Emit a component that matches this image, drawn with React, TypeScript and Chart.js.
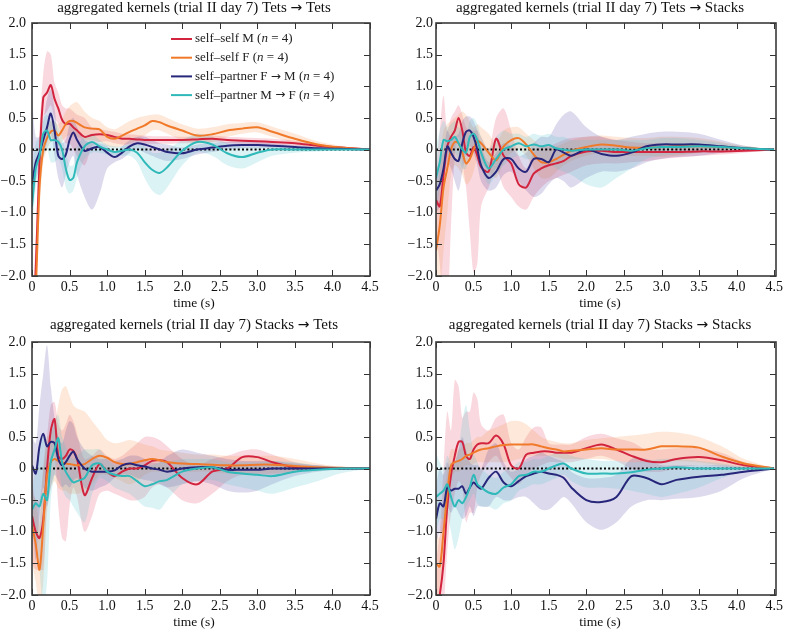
import { useEffect, useRef } from 'react';
import { Chart, registerables } from 'chart.js';
Chart.register(...registerables);

// time grid (s)
const X = [0, 0.05, 0.1, 0.15, 0.2, 0.25, 0.3, 0.35, 0.4, 0.45, 0.5, 0.55, 0.6, 0.7, 0.8, 0.9, 1.0, 1.1, 1.2, 1.3, 1.4, 1.5, 1.6, 1.7, 1.8, 2.0, 2.2, 2.4, 2.6, 2.8, 3.0, 3.2, 3.5, 3.8, 4.1, 4.5];

const X_TICKS = [0, 0.5, 1, 1.5, 2, 2.5, 3, 3.5, 4, 4.5];
const Y_TICKS = [-2, -1.5, -1, -0.5, 0, 0.5, 1, 1.5, 2];
const ZERO_LINE = [0, 0];
const ZERO_X = [0, 4.5];

// ---- Tets -> Tets ----
const TT_RED = [-3.0, -1.9, -0.2, 0.82, 0.9, 1.02, 0.8, 0.65, 0.47, 0.4, 0.41, 0.35, 0.3, 0.2, 0.23, 0.24, 0.23, 0.2, 0.17, 0.17, 0.16, 0.15, 0.15, 0.15, 0.15, 0.15, 0.16, 0.17, 0.15, 0.14, 0.13, 0.12, 0.1, 0.06, 0.03, 0];
const TT_RED_LO = [-3.5, -2.4, -0.6, 0.5, 0.6, 0.7, 0.5, 0.4, 0.2, 0.1, 0.1, 0.0, -0.1, -0.25, 0.05, 0.12, 0.13, 0.1, 0.08, 0.08, 0.09, 0.09, 0.09, 0.09, 0.09, 0.1, 0.1, 0.11, 0.1, 0.09, 0.08, 0.07, 0.06, 0.03, 0.01, 0];
const TT_RED_HI = [-2.5, -1.4, 0.3, 1.2, 1.55, 1.5, 1.05, 0.9, 0.7, 0.65, 0.65, 0.6, 0.55, 0.5, 0.35, 0.33, 0.3, 0.28, 0.25, 0.24, 0.23, 0.22, 0.21, 0.21, 0.21, 0.2, 0.21, 0.22, 0.2, 0.19, 0.18, 0.17, 0.14, 0.09, 0.05, 0];
const TT_ORANGE = [-3.0, -2.2, -0.6, 0.0, 0.18, 0.28, 0.3, 0.22, 0.3, 0.4, 0.45, 0.45, 0.42, 0.35, 0.33, 0.32, 0.2, 0.17, 0.22, 0.28, 0.33, 0.38, 0.45, 0.43, 0.38, 0.3, 0.22, 0.24, 0.3, 0.33, 0.35, 0.28, 0.17, 0.08, 0.03, 0];
const TT_ORANGE_LO = [-3.5, -2.7, -1.0, -0.2, 0.0, 0.12, 0.15, 0.05, 0.12, 0.2, 0.22, 0.2, 0.2, 0.15, 0.15, 0.12, 0.05, 0.03, 0.05, 0.1, 0.15, 0.22, 0.3, 0.3, 0.25, 0.15, 0.1, 0.12, 0.2, 0.25, 0.27, 0.2, 0.1, 0.03, 0.0, 0];
const TT_ORANGE_HI = [-2.5, -1.7, -0.2, 0.2, 0.35, 0.45, 0.45, 0.4, 0.48, 0.6, 0.68, 0.73, 0.75, 0.6, 0.5, 0.45, 0.35, 0.32, 0.38, 0.45, 0.5, 0.53, 0.55, 0.55, 0.5, 0.4, 0.33, 0.35, 0.4, 0.42, 0.43, 0.36, 0.25, 0.13, 0.06, 0];
const TT_NAVY = [-0.55, -0.2, -0.05, 0.15, 0.35, 0.57, 0.3, -0.1, -0.15, -0.08, 0.15, 0.27, 0.15, -0.02, 0.02, 0.04, -0.05, -0.12, -0.05, 0.05, 0.1, 0.08, 0.04, 0.0, -0.04, -0.06, 0.0, 0.03, 0.06, 0.07, 0.07, 0.06, 0.04, 0.02, 0.01, 0];
const TT_NAVY_LO = [-1.0, -0.5, -0.3, -0.1, 0.1, 0.25, -0.1, -0.45, -0.6, -0.4, -0.2, -0.1, -0.4, -0.75, -0.95, -0.7, -0.3, -0.2, -0.15, -0.05, 0.0, -0.05, -0.1, -0.15, -0.18, -0.15, -0.08, -0.04, 0.0, 0.02, 0.02, 0.02, 0.01, 0.0, 0.0, 0];
const TT_NAVY_HI = [0.8, 0.2, 0.2, 0.45, 0.8, 0.95, 0.65, 0.2, 0.1, 0.15, 0.4, 0.5, 0.35, 0.15, 0.1, 0.1, 0.05, -0.05, 0.05, 0.15, 0.2, 0.2, 0.15, 0.1, 0.08, 0.03, 0.08, 0.1, 0.12, 0.12, 0.12, 0.1, 0.07, 0.04, 0.02, 0];
const TT_TEAL = [-0.9, -0.3, -0.1, 0.25, 0.3, 0.15, 0.15, 0.12, 0.0, -0.3, -0.48, -0.45, -0.2, 0.05, 0.12, 0.05, 0.0, -0.04, -0.02, 0.0, -0.05, -0.2, -0.32, -0.37, -0.28, -0.02, 0.12, 0.08, -0.06, -0.12, -0.05, 0.0, 0.0, 0.0, 0.0, 0];
const TT_TEAL_LO = [-1.3, -0.6, -0.35, -0.1, 0.0, -0.2, -0.2, -0.15, -0.3, -0.6, -0.7, -0.65, -0.45, -0.15, -0.05, -0.05, -0.08, -0.12, -0.1, -0.1, -0.2, -0.45, -0.65, -0.72, -0.6, -0.25, -0.05, -0.1, -0.25, -0.3, -0.2, -0.1, -0.05, -0.03, -0.01, 0];
const TT_TEAL_HI = [-0.3, 0.1, 0.2, 0.5, 0.55, 0.45, 0.45, 0.35, 0.2, -0.05, -0.25, -0.25, 0.05, 0.2, 0.25, 0.15, 0.08, 0.05, 0.05, 0.08, 0.08, 0.05, -0.05, -0.05, 0.0, 0.15, 0.25, 0.2, 0.1, 0.05, 0.05, 0.05, 0.03, 0.02, 0.01, 0];

// ---- Tets -> Stacks ----
const TS_RED = [-0.8, -0.9, -0.4, 0.05, 0.2, 0.3, 0.5, 0.3, -0.05, -0.1, 0.04, -0.1, -0.28, -0.35, 0.17, -0.1, -0.22, -0.55, -0.6, -0.38, -0.3, -0.25, -0.22, -0.18, -0.1, -0.03, -0.02, -0.04, -0.04, -0.04, -0.04, -0.04, -0.03, -0.03, -0.02, 0];
const TS_RED_LO = [-1.3, -1.8, -2.5, -2.5, -1.2, -0.1, 0.2, -0.2, -0.6, -1.3, -1.95, -1.8, -0.9, -0.6, -0.3, -0.6, -0.75, -0.9, -0.95, -0.75, -0.6, -0.5, -0.45, -0.4, -0.35, -0.25, -0.22, -0.22, -0.2, -0.18, -0.15, -0.13, -0.1, -0.08, -0.05, 0];
const TS_RED_HI = [-0.3, 0.3, 0.85, 0.3, 0.5, 0.6, 0.7, 0.55, 0.35, 0.3, 0.3, 0.3, 0.2, 0.0, 0.5, 0.65, 0.3, -0.1, -0.3, -0.05, 0.05, 0.05, 0.1, 0.15, 0.18, 0.2, 0.2, 0.15, 0.12, 0.1, 0.1, 0.08, 0.05, 0.03, 0.02, 0];
const TS_ORANGE = [-1.6, -1.2, -0.6, -0.3, 0.0, 0.12, 0.1, -0.05, -0.22, -0.15, 0.0, 0.13, 0.1, -0.05, -0.17, 0.05, 0.15, 0.18, 0.08, -0.08, -0.2, -0.2, -0.15, -0.08, -0.02, 0.04, 0.08, 0.06, 0.03, 0.03, 0.04, 0.05, 0.05, 0.04, 0.02, 0];
const TS_ORANGE_LO = [-2.2, -2.2, -1.6, -1.0, -0.4, -0.25, -0.3, -0.4, -0.55, -0.5, -0.35, -0.15, -0.2, -0.35, -0.45, -0.2, -0.05, 0.0, -0.1, -0.3, -0.45, -0.45, -0.35, -0.25, -0.18, -0.1, -0.05, -0.08, -0.1, -0.1, -0.12, -0.1, -0.05, -0.02, 0.0, 0];
const TS_ORANGE_HI = [-1.0, -0.3, 0.3, 0.4, 0.45, 0.5, 0.55, 0.6, 0.55, 0.45, 0.35, 0.4, 0.35, 0.25, 0.1, 0.3, 0.35, 0.35, 0.25, 0.15, 0.05, 0.05, 0.05, 0.1, 0.15, 0.2, 0.22, 0.2, 0.18, 0.18, 0.2, 0.2, 0.18, 0.12, 0.06, 0];
const TS_NAVY = [-0.65, -0.55, -0.3, 0.05, -0.05, -0.15, -0.18, 0.1, 0.28, 0.3, 0.2, 0.0, -0.25, -0.45, -0.35, -0.15, -0.15, -0.3, -0.35, -0.15, -0.15, -0.2, 0.0, -0.05, -0.1, 0.0, -0.07, -0.1, -0.05, 0.05, 0.08, 0.08, 0.08, 0.05, 0.02, 0];
const TS_NAVY_LO = [-1.0, -0.9, -0.6, -0.2, -0.3, -0.5, -0.65, -0.35, -0.05, 0.05, -0.05, -0.25, -0.5, -0.65, -0.6, -0.4, -0.35, -0.5, -0.65, -0.75, -0.7, -0.55, -0.45, -0.5, -0.6, -0.45, -0.35, -0.35, -0.3, -0.2, -0.15, -0.12, -0.1, -0.05, -0.02, 0];
const TS_NAVY_HI = [-0.3, -0.2, 0.0, 0.3, 0.2, 0.2, 0.25, 0.45, 0.52, 0.52, 0.45, 0.3, 0.05, -0.2, -0.05, 0.1, 0.05, -0.1, -0.05, 0.1, 0.2, 0.2, 0.4, 0.55, 0.6, 0.35, 0.2, 0.15, 0.2, 0.25, 0.28, 0.28, 0.25, 0.15, 0.06, 0];
const TS_TEAL = [-0.45, -0.2, 0.15, 0.13, 0.15, 0.2, 0.1, 0.0, -0.05, 0.2, 0.25, 0.15, -0.05, -0.3, -0.15, 0.0, 0.05, 0.1, 0.05, 0.08, 0.05, 0.07, 0.02, 0.0, -0.02, 0.0, 0.0, 0.0, -0.02, 0.02, 0.04, 0.04, 0.05, 0.04, 0.02, 0];
const TS_TEAL_LO = [-1.0, -0.6, -0.15, -0.1, -0.1, -0.05, -0.15, -0.3, -0.3, -0.05, 0.0, -0.1, -0.3, -0.55, -0.4, -0.25, -0.15, -0.1, -0.15, -0.15, -0.15, -0.2, -0.3, -0.35, -0.4, -0.55, -0.6, -0.45, -0.3, -0.15, -0.1, -0.08, -0.05, -0.02, 0.0, 0];
const TS_TEAL_HI = [0.05, 0.3, 0.45, 0.35, 0.4, 0.45, 0.35, 0.3, 0.25, 0.45, 0.5, 0.4, 0.2, 0.0, 0.2, 0.3, 0.25, 0.25, 0.2, 0.25, 0.22, 0.25, 0.2, 0.2, 0.15, 0.15, 0.15, 0.15, 0.15, 0.15, 0.18, 0.18, 0.15, 0.1, 0.05, 0];

// ---- Stacks -> Tets ----
const ST_RED = [-0.75, -1.0, -1.1, -0.8, 0.0, 0.6, 0.78, 0.2, 0.15, 0.2, 0.3, 0.28, 0.15, -0.42, -0.15, 0.07, -0.05, -0.12, -0.05, 0.0, 0.0, 0.05, 0.12, 0.13, 0.1, -0.15, -0.25, -0.05, 0.0, 0.18, 0.18, 0.1, 0.02, 0.0, 0.0, 0];
const ST_RED_LO = [-1.5, -1.6, -1.6, -1.6, -0.5, 0.1, 0.2, -0.6, -1.1, -1.15, -0.6, -0.3, -0.45, -1.0, -0.75, -0.4, -0.35, -0.4, -0.45, -0.5, -0.5, -0.45, -0.3, -0.25, -0.3, -0.5, -0.55, -0.4, -0.2, -0.1, -0.1, -0.1, -0.05, -0.02, -0.01, 0];
const ST_RED_HI = [-0.2, -0.5, -0.5, 0.0, 0.5, 1.0, 1.05, 0.7, 0.6, 0.7, 0.85, 0.75, 0.55, 0.15, 0.2, 0.3, 0.2, 0.15, 0.2, 0.3, 0.4, 0.5, 0.5, 0.45, 0.35, 0.15, 0.05, 0.15, 0.2, 0.28, 0.3, 0.22, 0.1, 0.05, 0.02, 0];
const ST_ORANGE = [-0.9, -1.2, -1.6, -0.9, -0.1, 0.1, 0.15, 0.12, 0.1, 0.08, 0.07, 0.06, 0.05, 0.07, 0.15, 0.2, 0.17, 0.1, 0.07, 0.07, 0.1, 0.13, 0.15, 0.13, 0.1, 0.08, 0.07, 0.06, 0.05, 0.05, 0.06, 0.06, 0.04, 0.02, 0.01, 0];
const ST_ORANGE_LO = [-1.5, -1.8, -2.2, -1.8, -0.7, -0.3, -0.2, -0.3, -0.35, -0.35, -0.4, -0.4, -0.4, -0.35, -0.25, -0.1, -0.1, -0.15, -0.2, -0.25, -0.2, -0.1, -0.05, -0.05, -0.05, -0.05, -0.05, -0.05, -0.08, -0.08, -0.08, -0.08, -0.05, -0.02, 0.0, 0];
const ST_ORANGE_HI = [-0.4, -0.5, -0.9, 0.0, 0.5, 0.55, 0.7, 1.0, 1.25, 1.3, 1.15, 1.0, 0.95, 0.9, 0.75, 0.6, 0.45, 0.4, 0.42, 0.45, 0.42, 0.38, 0.35, 0.3, 0.28, 0.25, 0.22, 0.22, 0.2, 0.2, 0.2, 0.2, 0.15, 0.08, 0.03, 0];
const ST_NAVY = [0.05, -0.08, 0.35, 0.55, 0.35, 0.42, 0.4, 0.15, 0.05, 0.1, 0.2, 0.27, 0.15, 0.0, -0.05, -0.05, -0.05, -0.03, 0.05, 0.08, 0.05, 0.03, 0.0, -0.02, -0.05, 0.0, 0.02, 0.02, -0.02, -0.02, -0.02, 0.0, 0.0, 0.0, 0.0, 0];
const ST_NAVY_LO = [-0.7, -1.45, -0.7, -0.3, -0.6, -0.3, -0.1, -0.2, -0.3, -0.25, -0.3, -0.2, -0.15, -0.3, -0.35, -0.3, -0.25, -0.15, -0.1, -0.1, -0.15, -0.18, -0.2, -0.25, -0.3, -0.25, -0.2, -0.25, -0.35, -0.38, -0.35, -0.25, -0.12, -0.05, -0.02, 0];
const ST_NAVY_HI = [0.5, 0.4, 1.0, 1.5, 1.95, 1.3, 0.8, 0.5, 0.4, 0.6, 0.75, 0.7, 0.5, 0.3, 0.2, 0.15, 0.15, 0.12, 0.15, 0.2, 0.2, 0.15, 0.1, 0.1, 0.2, 0.3, 0.25, 0.2, 0.15, 0.12, 0.12, 0.12, 0.08, 0.05, 0.02, 0];
const ST_TEAL = [-0.65, -0.55, -0.6, -0.4, -0.5, 0.1, 0.3, 0.48, 0.1, -0.05, -0.15, -0.22, -0.2, -0.15, 0.05, 0.08, -0.05, -0.1, -0.12, -0.12, -0.2, -0.28, -0.25, -0.2, -0.18, -0.05, 0.0, 0.02, -0.05, -0.08, -0.1, -0.12, -0.05, -0.02, 0.0, 0];
const ST_TEAL_LO = [-1.0, -1.1, -1.6, -2.2, -1.8, -0.5, -0.1, 0.1, -0.3, -0.45, -0.5, -0.6, -0.7, -0.85, -0.4, -0.15, -0.2, -0.3, -0.35, -0.4, -0.5, -0.6, -0.62, -0.65, -0.5, -0.25, -0.2, -0.18, -0.25, -0.3, -0.35, -0.4, -0.3, -0.2, -0.08, 0];
const ST_TEAL_HI = [-0.3, 0.0, 0.4, 0.5, 0.3, 0.6, 0.75, 0.85, 0.5, 0.35, 0.2, 0.15, 0.2, 0.3, 0.3, 0.3, 0.15, 0.05, 0.05, 0.1, 0.1, 0.05, 0.05, 0.1, 0.1, 0.15, 0.15, 0.15, 0.1, 0.1, 0.1, 0.12, 0.1, 0.05, 0.02, 0];

// ---- Stacks -> Stacks ----
const SS_RED = [-2.3, -2.0, -1.5, -0.6, -0.1, 0.2, 0.42, 0.42, 0.2, 0.15, 0.3, 0.38, 0.4, 0.4, 0.52, 0.38, 0.05, 0.0, 0.22, 0.25, 0.27, 0.27, 0.25, 0.25, 0.25, 0.32, 0.38, 0.3, 0.2, 0.12, 0.1, 0.15, 0.18, 0.13, 0.05, 0];
const SS_RED_LO = [-3.0, -2.5, -2.2, -1.3, -0.7, -0.4, -0.2, -0.3, -0.85, -0.7, -0.7, -0.3, -0.1, 0.1, 0.2, 0.0, -0.15, -0.25, -0.1, 0.0, 0.05, 0.1, 0.1, 0.1, 0.1, 0.15, 0.2, 0.12, 0.0, -0.05, -0.05, 0.0, 0.05, 0.03, 0.0, 0];
const SS_RED_HI = [-1.5, -1.0, 0.0, 0.9, 0.6, 1.4, 1.3, 0.8, 0.9, 0.9, 1.2, 1.1, 0.7, 0.6, 0.8, 0.85, 0.4, 0.3, 0.5, 0.65, 0.65, 0.4, 0.38, 0.38, 0.38, 0.5, 0.55, 0.48, 0.42, 0.3, 0.3, 0.32, 0.32, 0.25, 0.1, 0];
const SS_ORANGE = [-1.5, -1.55, -1.0, -0.4, 0.05, 0.1, 0.12, 0.15, 0.2, 0.22, 0.25, 0.28, 0.3, 0.32, 0.35, 0.37, 0.38, 0.38, 0.38, 0.38, 0.35, 0.32, 0.3, 0.27, 0.28, 0.3, 0.32, 0.3, 0.3, 0.3, 0.35, 0.35, 0.33, 0.19, 0.08, 0];
const SS_ORANGE_LO = [-2.2, -2.0, -1.5, -0.8, -0.2, -0.05, -0.05, 0.0, 0.05, 0.05, 0.08, 0.1, 0.1, 0.1, 0.1, 0.1, 0.12, 0.15, 0.18, 0.2, 0.2, 0.2, 0.18, 0.15, 0.15, 0.15, 0.15, 0.12, 0.1, 0.1, 0.12, 0.12, 0.1, 0.05, 0.02, 0];
const SS_ORANGE_HI = [-1.0, -1.1, -0.5, 0.0, 0.3, 0.3, 0.3, 0.35, 0.4, 0.4, 0.45, 0.5, 0.5, 0.6, 0.65, 0.7, 0.75, 0.75, 0.7, 0.6, 0.5, 0.45, 0.42, 0.4, 0.4, 0.45, 0.48, 0.5, 0.52, 0.55, 0.58, 0.57, 0.5, 0.35, 0.15, 0];
const SS_NAVY = [-0.8, -0.55, -0.6, -0.3, -0.35, -0.32, -0.32, -0.28, -0.4, -0.3, -0.22, -0.28, -0.32, -0.15, -0.05, -0.22, -0.28, -0.2, -0.12, -0.08, -0.05, -0.08, -0.1, -0.15, -0.3, -0.5, -0.53, -0.45, -0.12, -0.15, -0.25, -0.18, -0.13, -0.1, -0.05, 0];
const SS_NAVY_LO = [-1.2, -1.0, -1.0, -0.6, -0.7, -0.6, -0.7, -0.8, -0.75, -0.6, -0.75, -0.6, -0.6, -0.6, -0.45, -0.5, -0.5, -0.45, -0.45, -0.55, -0.65, -0.65, -0.55, -0.45, -0.55, -0.85, -0.97, -0.85, -0.6, -0.5, -0.5, -0.48, -0.45, -0.35, -0.15, 0];
const SS_NAVY_HI = [-0.3, 0.0, -0.1, 0.1, 0.0, 0.1, 0.3, 0.5, 0.3, 0.1, 0.05, 0.05, 0.0, 0.3, 0.4, 0.1, -0.05, 0.0, 0.15, 0.2, 0.25, 0.2, 0.15, 0.1, -0.05, -0.15, -0.15, -0.1, 0.15, 0.15, 0.05, 0.05, 0.05, 0.05, 0.02, 0];
const SS_TEAL = [-0.45, -0.4, -0.35, -0.25, -0.45, -0.6, -0.5, -0.55, -0.45, -0.3, -0.1, -0.25, -0.3, -0.38, -0.4, -0.3, -0.25, -0.12, -0.1, -0.05, -0.05, 0.0, 0.05, 0.08, 0.0, -0.08, -0.08, -0.08, -0.06, -0.02, 0.0, 0.02, 0.0, 0.0, 0.0, 0];
const SS_TEAL_LO = [-1.0, -0.8, -0.8, -0.7, -1.0, -1.28, -1.1, -0.8, -0.6, -0.5, -0.4, -0.55, -0.6, -0.6, -0.65, -0.55, -0.5, -0.35, -0.3, -0.25, -0.25, -0.2, -0.15, -0.1, -0.2, -0.3, -0.3, -0.32, -0.35, -0.4, -0.45, -0.4, -0.3, -0.15, -0.05, 0];
const SS_TEAL_HI = [0.25, 0.1, 0.0, 0.2, 0.1, 0.1, 0.3, 0.75, 1.0, 0.6, 0.25, 0.1, 0.0, -0.1, -0.15, -0.05, 0.0, 0.1, 0.1, 0.15, 0.15, 0.2, 0.25, 0.25, 0.2, 0.15, 0.12, 0.12, 0.1, 0.12, 0.15, 0.15, 0.12, 0.08, 0.03, 0];

const LINE_COLORS = ['#d2243f', '#f07a2a', '#27267a', '#2fb9b9'];
const BAND_COLORS = ['rgba(225,60,95,0.2)', 'rgba(248,150,80,0.22)', 'rgba(80,70,160,0.2)', 'rgba(80,195,205,0.2)'];
const LEGEND_LABELS = [
  ['self–self M (', ' = 4)'],
  ['self–self F (', ' = 4)'],
  ['self–partner F → M (', ' = 4)'],
  ['self–partner M → F (', ' = 4)'],
];

const FONT = '"Liberation Serif", "DejaVu Serif", serif';
const ARROW_FONT = '"DejaVu Sans", sans-serif';

type Area = { l: number; r: number; t: number; b: number };
type PanelDef = {
  title: string;
  mean: number[][];
  lo: number[][];
  hi: number[][];
  left: number;
  top: number;
  w: number;
  h: number;
  area: Area;
  cx: number;
  ty: number;
  ypad: number;
  legend: boolean;
};

const PANELS: PanelDef[] = [
  {
    title: 'aggregated kernels (trial II day 7) Tets → Tets',
    mean: [TT_RED, TT_ORANGE, TT_NAVY, TT_TEAL],
    lo: [TT_RED_LO, TT_ORANGE_LO, TT_NAVY_LO, TT_TEAL_LO],
    hi: [TT_RED_HI, TT_ORANGE_HI, TT_NAVY_HI, TT_TEAL_HI],
    left: 0, top: 0, w: 393, h: 314,
    area: { l: 32, r: 370, t: 23, b: 276 }, cx: 194, ty: 8, ypad: 6, legend: true,
  },
  {
    title: 'aggregated kernels (trial II day 7) Tets → Stacks',
    mean: [TS_RED, TS_ORANGE, TS_NAVY, TS_TEAL],
    lo: [TS_RED_LO, TS_ORANGE_LO, TS_NAVY_LO, TS_TEAL_LO],
    hi: [TS_RED_HI, TS_ORANGE_HI, TS_NAVY_HI, TS_TEAL_HI],
    left: 393, top: 0, w: 393, h: 314,
    area: { l: 43, r: 383, t: 23, b: 276 }, cx: 207, ty: 8, ypad: 3, legend: false,
  },
  {
    title: 'aggregated kernels (trial II day 7) Stacks → Tets',
    mean: [ST_RED, ST_ORANGE, ST_NAVY, ST_TEAL],
    lo: [ST_RED_LO, ST_ORANGE_LO, ST_NAVY_LO, ST_TEAL_LO],
    hi: [ST_RED_HI, ST_ORANGE_HI, ST_NAVY_HI, ST_TEAL_HI],
    left: 0, top: 314, w: 393, h: 315,
    area: { l: 32, r: 370, t: 28, b: 281 }, cx: 194, ty: 11, ypad: 6, legend: false,
  },
  {
    title: 'aggregated kernels (trial II day 7) Stacks → Stacks',
    mean: [SS_RED, SS_ORANGE, SS_NAVY, SS_TEAL],
    lo: [SS_RED_LO, SS_ORANGE_LO, SS_NAVY_LO, SS_TEAL_LO],
    hi: [SS_RED_HI, SS_ORANGE_HI, SS_NAVY_HI, SS_TEAL_HI],
    left: 393, top: 314, w: 393, h: 315,
    area: { l: 43, r: 383, t: 28, b: 281 }, cx: 207, ty: 11, ypad: 3, legend: false,
  },
];

const pts = (arr: number[]) => X.map((x, i) => ({ x, y: arr[i] }));
const fmt = (v: number) => (v === 0 ? '0' : (v < 0 ? '−' : '') + Math.abs(v).toFixed(1));

type Seg = { t: string; f: string };
// split text so the arrow uses a font with a full-size arrow glyph
function segs(text: string, size: number): Seg[] {
  const out: Seg[] = [];
  text.split(/(→)/).forEach((part) => {
    if (!part) return;
    if (part === '→') out.push({ t: '→', f: `${size - 1}px ${ARROW_FONT}` });
    else out.push({ t: part, f: `${size}px ${FONT}` });
  });
  return out;
}
function drawSegs(ctx: CanvasRenderingContext2D, s: Seg[], x: number, y: number, center: boolean) {
  let total = 0;
  s.forEach((g) => { ctx.font = g.f; total += ctx.measureText(g.t).width; });
  let cx = center ? x - total / 2 : x;
  ctx.textAlign = 'left';
  s.forEach((g) => {
    ctx.font = g.f;
    ctx.fillText(g.t, cx, y);
    cx += ctx.measureText(g.t).width;
  });
}

function Panel({ p }: { p: PanelDef }) {
  const ref = useRef<HTMLCanvasElement | null>(null);
  useEffect(() => {
    if (!ref.current) return;
    const datasets: any[] = [];
    for (let k = 0; k < 4; k++) {
      datasets.push({
        data: pts(p.lo[k]), borderWidth: 0, borderColor: 'rgba(0,0,0,0)', pointRadius: 0,
        fill: false, tension: 0.3, order: 13 - k,
      });
      datasets.push({
        data: pts(p.hi[k]), borderWidth: 0, borderColor: 'rgba(0,0,0,0)', pointRadius: 0,
        fill: '-1', backgroundColor: BAND_COLORS[k], tension: 0.3, order: 13 - k,
      });
    }
    datasets.push({
      data: ZERO_X.map((x, i) => ({ x, y: ZERO_LINE[i] })), borderColor: '#000', borderWidth: 2,
      borderDash: [2, 2.2], pointRadius: 0, fill: false, order: 5,
    });
    for (let k = 0; k < 4; k++) {
      datasets.push({
        data: pts(p.mean[k]), borderColor: LINE_COLORS[k], borderWidth: 2, pointRadius: 0,
        fill: false, tension: 0.3, order: 3 - k,
      });
    }
    const a = p.area;
    const deco = {
      id: 'deco',
      afterDraw(chart: any) {
        const ctx = chart.ctx as CanvasRenderingContext2D;
        const xs = chart.scales.x;
        const ys = chart.scales.y;
        ctx.save();
        // inward ticks on all four sides
        ctx.strokeStyle = '#333';
        ctx.lineWidth = 1;
        ctx.beginPath();
        X_TICKS.forEach((v) => {
          const px = Math.round(xs.getPixelForValue(v)) + 0.5;
          ctx.moveTo(px, a.b); ctx.lineTo(px, a.b - 6);
          ctx.moveTo(px, a.t); ctx.lineTo(px, a.t + 6);
        });
        Y_TICKS.forEach((v) => {
          const py = Math.round(ys.getPixelForValue(v)) + 0.5;
          ctx.moveTo(a.l, py); ctx.lineTo(a.l + 6, py);
          ctx.moveTo(a.r, py); ctx.lineTo(a.r - 6, py);
        });
        ctx.stroke();
        // frame
        ctx.strokeStyle = '#3a3a3a';
        ctx.lineWidth = 1.6;
        ctx.strokeRect(a.l, a.t, a.r - a.l, a.b - a.t);
        // title & axis label
        ctx.fillStyle = '#111';
        ctx.textBaseline = 'middle';
        drawSegs(ctx, segs(p.title, 15), p.cx, p.ty, true);
        drawSegs(ctx, segs('time (s)', 13.5), p.cx, a.b + 27, true);
        // legend
        if (p.legend) {
          for (let k = 0; k < 4; k++) {
            const y = 39 + k * 18.7;
            ctx.strokeStyle = LINE_COLORS[k];
            ctx.lineWidth = 2;
            ctx.beginPath();
            ctx.moveTo(171, y); ctx.lineTo(192, y);
            ctx.stroke();
            ctx.fillStyle = '#222';
            const s = [
              ...segs(LEGEND_LABELS[k][0], 13),
              { t: 'n', f: `italic 13px ${FONT}` },
              ...segs(LEGEND_LABELS[k][1], 13),
            ];
            drawSegs(ctx, s, 195, y, false);
          }
        }
        ctx.restore();
      },
    };
    const chart = new Chart(ref.current, {
      type: 'line',
      data: { datasets },
      options: {
        responsive: false,
        animation: false,
        devicePixelRatio: 1,
        events: [],
        layout: { padding: { left: 0, top: a.t, right: p.w - a.r, bottom: 0 } },
        plugins: { legend: { display: false }, tooltip: { enabled: false }, title: { display: false } },
        scales: {
          x: {
            type: 'linear', min: 0, max: 4.5,
            border: { display: false },
            grid: { display: false, drawTicks: false },
            ticks: {
              stepSize: 0.5, padding: 3, color: '#111', autoSkip: false, maxRotation: 0,
              font: { family: FONT, size: 14 }, callback: (v: any) => fmt(Number(v)),
            },
            afterFit: (s: any) => { s.height = p.h - a.b; },
          },
          y: {
            type: 'linear', min: -2, max: 2,
            border: { display: false },
            grid: { display: false, drawTicks: false },
            ticks: {
              stepSize: 0.5, padding: p.ypad, color: '#111', autoSkip: false,
              font: { family: FONT, size: 14 }, callback: (v: any) => fmt(Number(v)),
            },
            afterFit: (s: any) => { s.width = a.l; },
          },
        },
      } as any,
      plugins: [deco],
    });
    return () => chart.destroy();
  }, [p]);
  return (
    <canvas
      ref={ref}
      width={p.w}
      height={p.h}
      style={{ position: 'absolute', left: p.left, top: p.top, width: p.w, height: p.h }}
    />
  );
}

export default function App() {
  return (
    <div style={{ position: 'absolute', left: 0, top: 0, width: 786, height: 629, background: '#fff' }}>
      {PANELS.map((p, i) => (
        <Panel key={i} p={p} />
      ))}
    </div>
  );
}
